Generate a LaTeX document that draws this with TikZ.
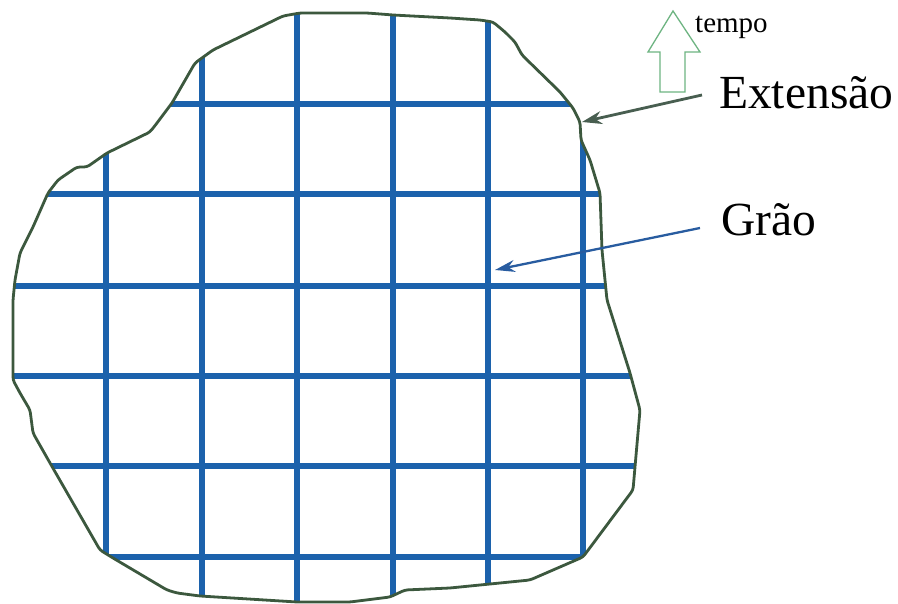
\documentclass[tikz,border=0pt]{standalone}
\usepackage{fontspec}
\setmainfont{Liberation Serif}
\usetikzlibrary{arrows.meta}
\definecolor{gridblue}{RGB}{28,98,172}
\definecolor{blobgreen}{RGB}{60,88,62}
\definecolor{extarrowc}{RGB}{72,94,80}
\definecolor{graoarrowc}{RGB}{40,92,160}
\definecolor{hollowgreen}{RGB}{110,180,130}
\tikzset{
  gridline/.style={gridblue, line width=5.5pt},
  blobline/.style={blobgreen, line width=2.8pt, line join=round, rounded corners=3pt},
  lbl/.style={inner sep=0pt, text=black, font=\fontsize{47.5}{52}\selectfont},
  smalllbl/.style={inner sep=0pt, text=black, font=\fontsize{29}{32}\selectfont},
  extarrow/.style={extarrowc, line width=2.8pt, -{Stealth[length=20pt,width=13pt]}},
  graoarrow/.style={graoarrowc, line width=2.3pt, -{Stealth[length=20pt,width=12pt]}},
  hollowarrow/.style={hollowgreen, line width=1.3pt, line join=miter, fill=white}
}
\def\blobpath{(283,16) -- (300,13) -- (367,13) -- (393,15) -- (450,18) -- (480,20) -- (493,22) -- (505,32) -- (515,42) -- (522,55) -- (560,92) -- (573,108) -- (580,122) -- (581,140) -- (590,160) -- (600,193) -- (602,250) -- (607,300) -- (630,373) -- (640,410) -- (635,467) -- (633,490) -- (583,557) -- (530,580) -- (450,588) -- (405,590) -- (390,597) -- (350,602) -- (297,602) -- (200,596) -- (177,593) -- (167,590) -- (113,558) -- (100,550) -- (50,463) -- (33,433) -- (30,410) -- (20,393) -- (13,380) -- (13,300) -- (15,280) -- (20,253) -- (33,227) -- (48,193) -- (58,180) -- (77,167) -- (87,167) -- (107,153) -- (150,132) -- (157,123) -- (172,103) -- (195,63) -- (213,50) -- cycle}
\begin{document}
\begin{tikzpicture}[x=1pt,y=-1pt]
\useasboundingbox[fill=white] (0,0) rectangle (898,604);
% grid clipped to the grain outline
\begin{scope}
  \clip \blobpath;
  \foreach \gx in {106,202,297,393,488,583}
    \draw[gridline] (\gx,0) -- (\gx,604);
  \foreach \gy in {104,194,286,376,466,557}
    \draw[gridline] (0,\gy) -- (898,\gy);
\end{scope}
% outline
\draw[blobline] \blobpath;
% hollow time arrow
\draw[hollowarrow] (660,92) -- (660,52) -- (648,52) -- (673,11) -- (700,52) -- (685,52) -- (685,92) -- cycle;
% labels
\node[smalllbl, anchor=base west] (tempo) at (695,33) {tempo};
\node[lbl, anchor=base west] (ext) at (719,109) {Extensão};
\node[lbl, anchor=base west] (grao) at (721,236) {Grão};
% connectors
\coordinate (extTip) at (582,122);
\coordinate (graoTip) at (495,270);
\draw[extarrow] ([shift={(-17,-14)}]ext.base west) -- (extTip);
\draw[graoarrow] ([shift={(-21,-8)}]grao.base west) -- (graoTip);
\end{tikzpicture}
\end{document}
